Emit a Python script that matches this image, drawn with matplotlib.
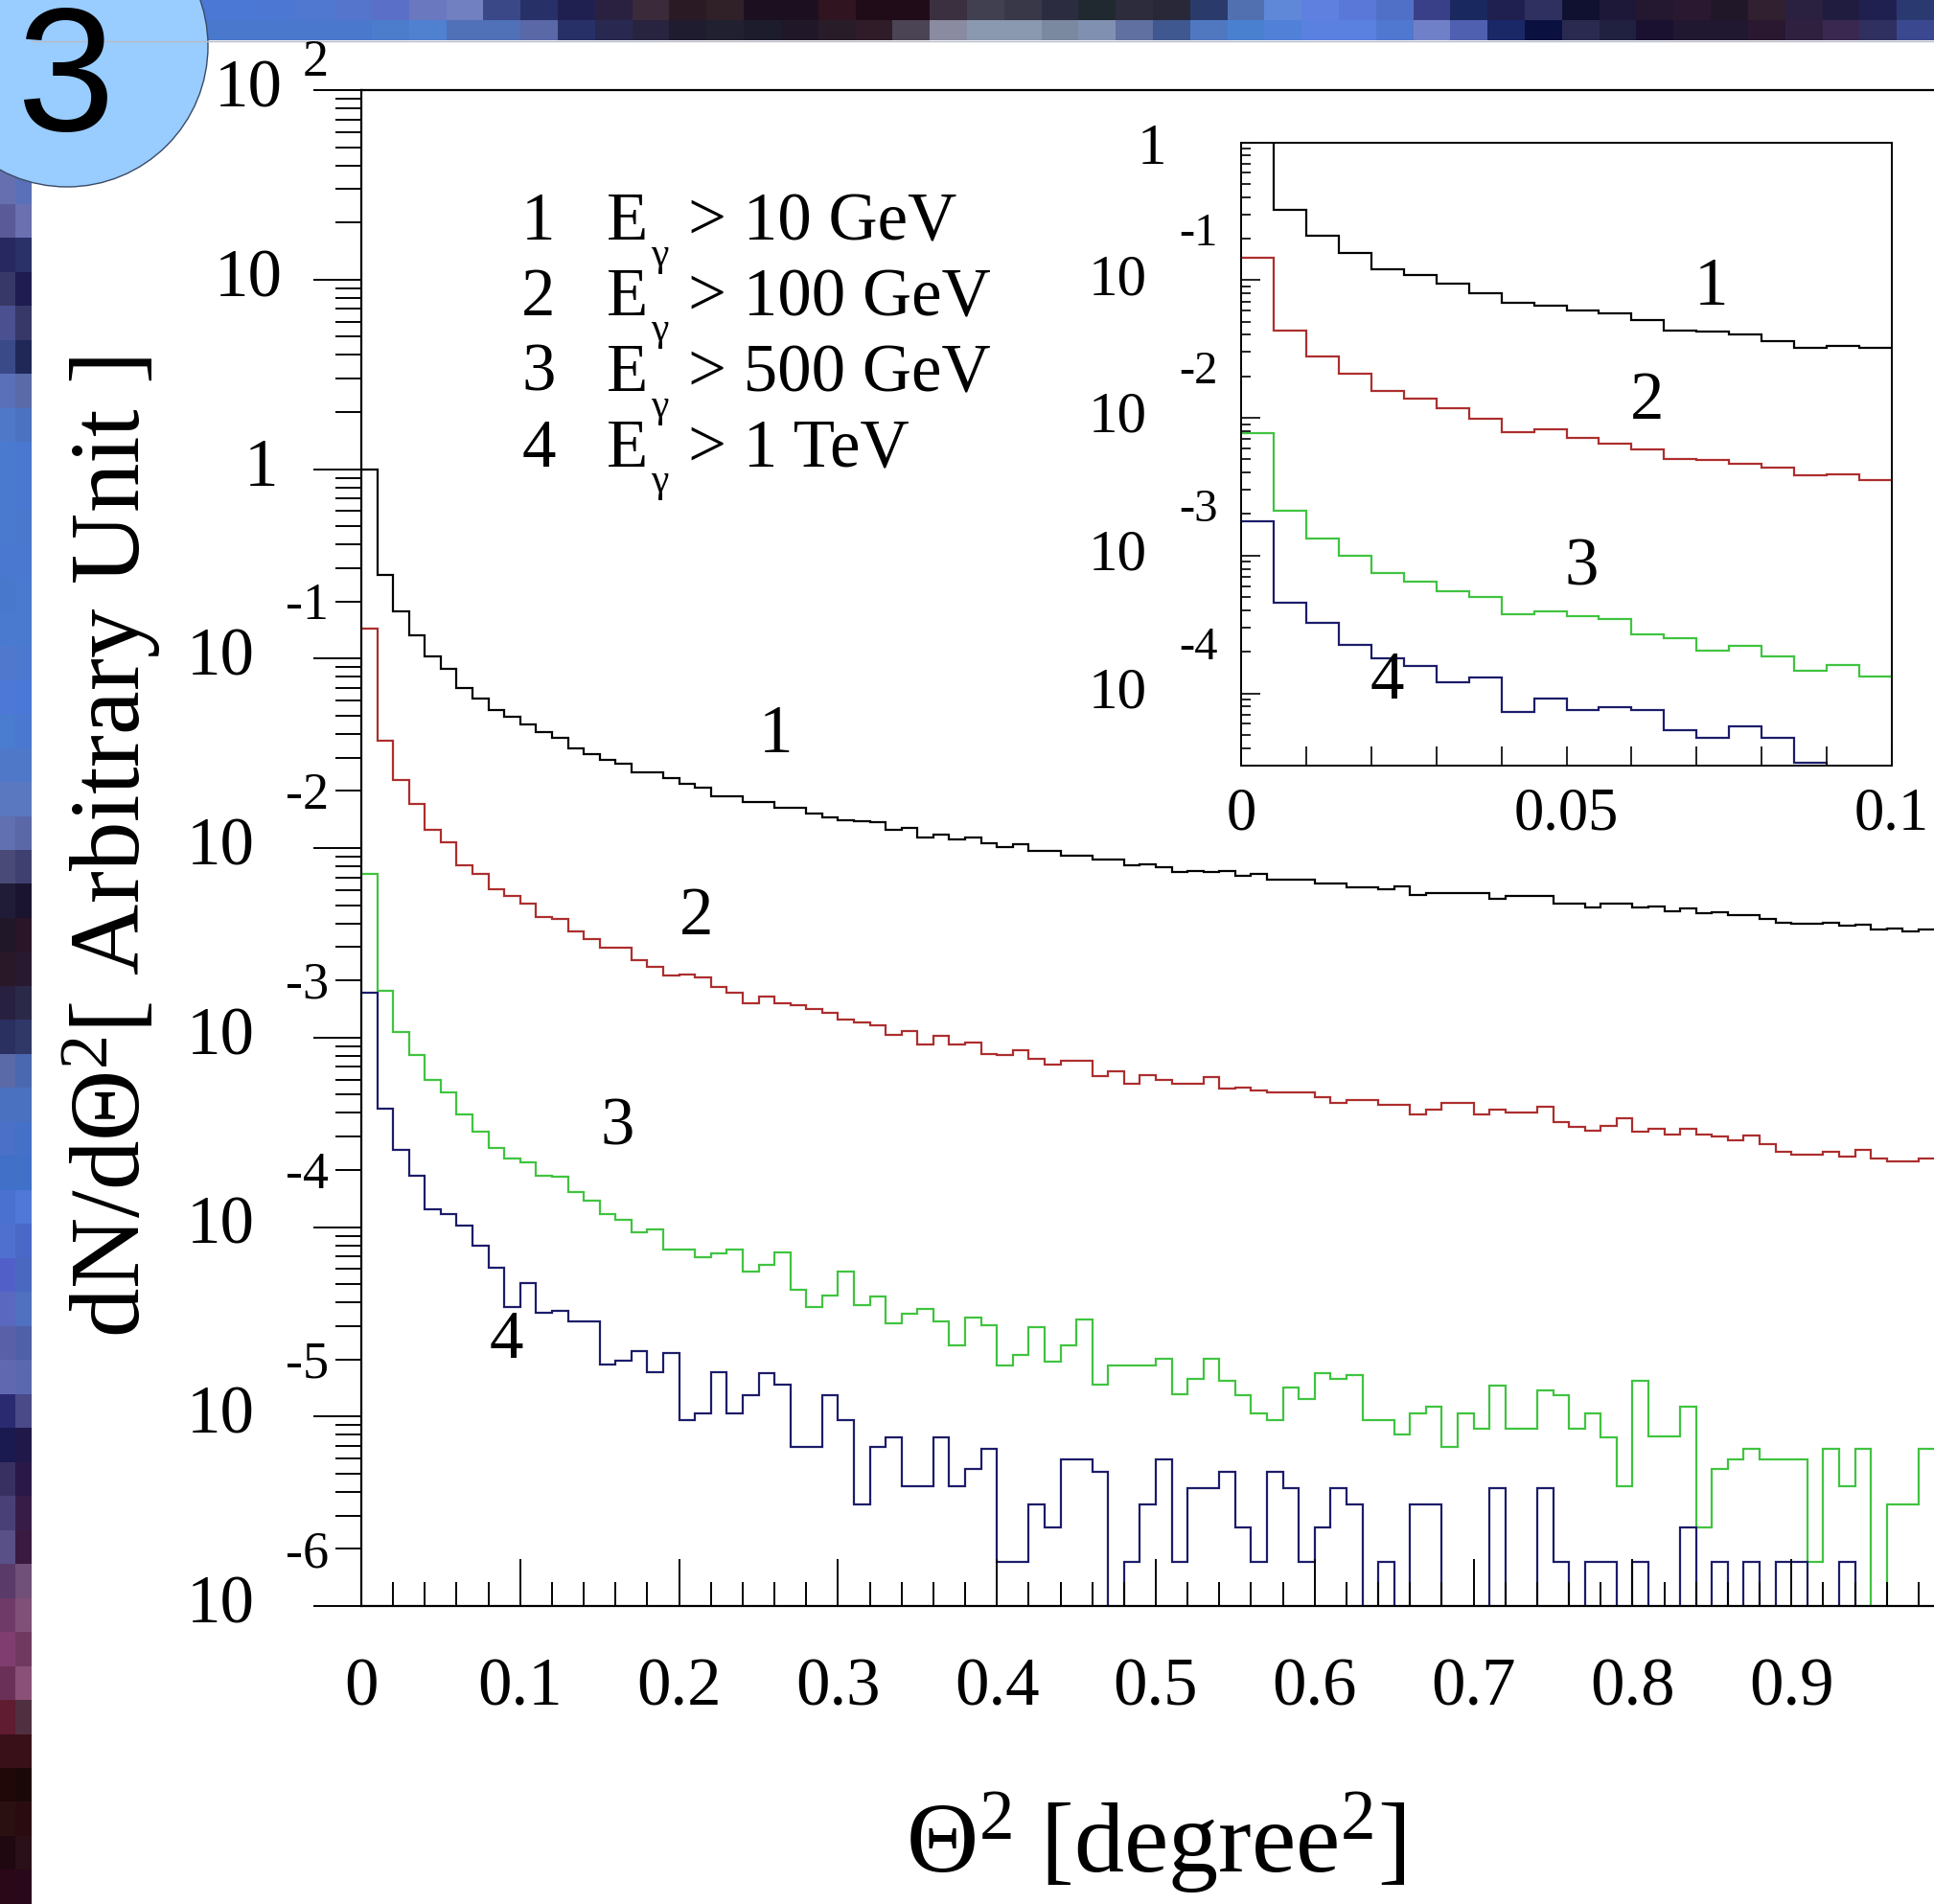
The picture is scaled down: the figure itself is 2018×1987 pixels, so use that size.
"""
Theta^2 distributions for four photon-energy cuts (ROOT style, log y),
redrawn on the slide background.  ->  out.png
"""
import numpy as np
import matplotlib
matplotlib.use("Agg")
import matplotlib.pyplot as plt
from matplotlib.patches import Circle
from matplotlib.colors import to_rgb
from matplotlib.ticker import LogLocator, MultipleLocator, NullFormatter

W, H, DPI = 2018, 1987, 100
PT = 72 / DPI  # points per pixel

# log10(dN/dTheta^2) per bin, None = empty bin
# main panel: 100 bins of 0.01 degree^2
black = [0.0, -0.558, -0.753, -0.878, -0.987, -1.054, -1.155, -1.210, -1.272, -1.307,
         -1.346, -1.389, -1.420, -1.475, -1.506, -1.537, -1.553, -1.600, -1.600, -1.631,
         -1.662, -1.682, -1.728, -1.728, -1.756, -1.756, -1.787, -1.787, -1.818, -1.838,
         -1.853, -1.857, -1.865, -1.904, -1.892, -1.943, -1.927, -1.955, -1.943, -1.974,
         -1.994, -1.982, -2.013, -2.013, -2.041, -2.041, -2.060, -2.060, -2.091, -2.087,
         -2.099, -2.126, -2.119, -2.126, -2.119, -2.146, -2.138, -2.165, -2.165, -2.165,
         -2.185, -2.185, -2.208, -2.208, -2.216, -2.204, -2.247, -2.236, -2.236, -2.236,
         -2.236, -2.267, -2.255, -2.255, -2.255, -2.294, -2.294, -2.314, -2.294, -2.294,
         -2.314, -2.306, -2.333, -2.321, -2.345, -2.341, -2.353, -2.353, -2.372, -2.392,
         -2.399, -2.399, -2.392, -2.411, -2.403, -2.431, -2.423, -2.438, -2.431, -2.431]
red = [-0.843, -1.436, -1.639, -1.768, -1.904, -1.970, -2.091, -2.138, -2.216, -2.255,
       -2.294, -2.364, -2.372, -2.438, -2.481, -2.528, -2.528, -2.591, -2.626, -2.673,
       -2.665, -2.684, -2.731, -2.762, -2.821, -2.782, -2.821, -2.829, -2.848, -2.871,
       -2.907, -2.918, -2.938, -2.985, -2.965, -3.035, -2.989, -3.035, -3.027, -3.086,
       -3.094, -3.066, -3.113, -3.141, -3.121, -3.121, -3.203, -3.180, -3.242, -3.199,
       -3.223, -3.242, -3.242, -3.211, -3.269, -3.262, -3.277, -3.289, -3.289, -3.289,
       -3.316, -3.347, -3.328, -3.328, -3.355, -3.355, -3.406, -3.379, -3.347, -3.347,
       -3.406, -3.379, -3.398, -3.398, -3.367, -3.445, -3.472, -3.492, -3.464, -3.425,
       -3.496, -3.484, -3.511, -3.484, -3.511, -3.523, -3.542, -3.515, -3.562, -3.601,
       -3.620, -3.620, -3.601, -3.628, -3.593, -3.640, -3.652, -3.652, -3.640, -3.640]
green = [-2.138, -2.754, -2.969, -3.094, -3.223, -3.289, -3.406, -3.496, -3.582, -3.640,
         -3.660, -3.730, -3.737, -3.815, -3.862, -3.933, -3.964, -4.030, -4.011, -4.120,
         -4.120, -4.159, -4.139, -4.120, -4.237, -4.198, -4.135, -4.330, -4.420, -4.362,
         -4.237, -4.412, -4.369, -4.510, -4.459, -4.432, -4.498, -4.623, -4.479, -4.518,
         -4.732, -4.674, -4.529, -4.713, -4.627, -4.490, -4.830, -4.732, -4.732, -4.732,
         -4.693, -4.880, -4.802, -4.693, -4.810, -4.888, -4.986, -5.017, -4.849, -4.908,
         -4.771, -4.802, -4.783, -5.017, -5.017, -5.095, -4.986, -4.947, -5.161, -4.986,
         -5.064, -4.838, -5.064, -5.064, -4.861, -4.888, -5.064, -4.986, -5.111, -5.368,
         -4.810, -5.103, -5.103, -4.947, -5.583, -5.278, -5.228, -5.173, -5.228, -5.228,
         -5.228, -5.766, -5.173, -5.368, -5.173, None, -5.466, -5.466, -5.173, -5.173]
blue = [-2.762, -3.375, -3.593, -3.730, -3.905, -3.933, -3.991, -4.100, -4.217, -4.420,
        -4.295, -4.451, -4.440, -4.498, -4.498, -4.725, -4.705, -4.654, -4.764, -4.666,
        -5.017, -4.986, -4.764, -4.986, -4.888, -4.771, -4.830, -5.161, -5.161, -4.888,
        -5.017, -5.462, -5.161, -5.111, -5.368, -5.368, -5.111, -5.368, -5.278, -5.169,
        -5.766, -5.766, -5.466, -5.583, -5.228, -5.228, -5.290, None, -5.766, -5.466,
        -5.228, -5.766, -5.376, -5.376, -5.290, -5.583, -5.766, -5.290, -5.376, -5.766,
        -5.583, -5.376, -5.466, None, -5.766, None, -5.466, -5.466, None, None,
        None, -5.376, None, None, -5.376, -5.766, None, -5.766, -5.766, None,
        -5.766, None, None, -5.583, None, -5.766, None, -5.766, None, -5.766,
        -5.766, None, None, -5.766, None, None, None, None, None, None]

# inset: 20 bins of 0.005 degree^2
black_in = [0.23, -0.493, -0.677, -0.801, -0.919, -0.961, -1.025, -1.096, -1.164, -1.185,
            -1.220, -1.245, -1.291, -1.369, -1.376, -1.398, -1.440, -1.493, -1.476, -1.493]
red_in = [-0.837, -1.369, -1.557, -1.678, -1.806, -1.859, -1.930, -2.008, -2.107, -2.086,
          -2.143, -2.185, -2.228, -2.302, -2.309, -2.334, -2.362, -2.416, -2.410, -2.453]
green_in = [-2.114, -2.675, -2.877, -3.001, -3.126, -3.186, -3.257, -3.303, -3.427, -3.402,
            -3.438, -3.462, -3.569, -3.600, -3.693, -3.658, -3.729, -3.835, -3.792, -3.881]
blue_in = [-2.753, -3.345, -3.487, -3.650, -3.746, -3.800, -3.917, -3.888, -4.137, -4.037,
           -4.119, -4.101, -4.119, -4.268, -4.321, -4.243, -4.321, -4.506, None, None]

curve_ids = ["1", "2", "3", "4"]
cuts = ["> 10 GeV", "> 100 GeV", "> 500 GeV", "> 1 TeV"]
colors = ["#000000", "#ad2e2e", "#40c440", "#1c1c6a"]

xtick_vals = [0, 0.1, 0.2, 0.3, 0.4, 0.5, 0.6, 0.7, 0.8, 0.9]
xtick_text = ["0", "0.1", "0.2", "0.3", "0.4", "0.5", "0.6", "0.7", "0.8", "0.9"]
in_xtick_vals = [0, 0.05, 0.1]
in_xtick_text = ["0", "0.05", "0.1"]

# slide decoration (pixel mosaic of the template border)
top_row1 = ["#4a78d4"] * 7 + ["#4c78d4", "#5078d0", "#5575cc", "#5a70c8", "#6a78c0", "#7080c0",
            "#3a4888", "#283068", "#202050", "#2a2040", "#3a2a3a", "#2a1a24", "#302028",
            "#1c1020", "#1c1020", "#301420", "#200c18", "#200c18", "#3a3040", "#404050",
            "#383848", "#2c2c40", "#202830", "#2c2c3c", "#282838", "#2a3a6a", "#5070b0",
            "#6088d8", "#6080e0", "#5a78d8", "#5070c8", "#3a4088", "#1a2860", "#202050",
            "#303060", "#101030", "#1e1838", "#241830", "#2a1830", "#201828", "#302030",
            "#2a2040", "#201c40", "#202050", "#2a3a70"]
top_row2 = ["#4a78cc"] * 10 + ["#4c7ccc", "#5080d0", "#5070b8", "#5070b8", "#5a68a8",
            "#283068", "#282850", "#282440", "#201c30", "#202030", "#1c1c2c", "#201828",
            "#281c28", "#301c28", "#4a4454", "#8a8aa0", "#8a98b0", "#8a98b0", "#7a88a0",
            "#8090b0", "#6070a0", "#405890", "#5078c0", "#4a80d0", "#5080d8", "#5a80e0",
            "#5a80e0", "#5078d0", "#7080c8", "#5060b0", "#1a2868", "#0a1040", "#2a2a50",
            "#202040", "#1a1030", "#201830", "#201830", "#2a1830", "#302040", "#3a2850",
            "#303060", "#3a4890"]
left_col1 = ["#5a70b8"] * 5 + ["#6670b0", "#5a5a98", "#282860", "#383868", "#4a5090",
             "#3a4a88", "#5a70b8", "#5078c8", "#4a7ad0", "#4a7ad0", "#4a7ad0", "#4a78d0",
             "#4878cc", "#4a7ad0", "#5078cc", "#4e78d8", "#4a7cd0", "#5078c8", "#5a78c0",
             "#6070b0", "#4a4a78", "#201c38", "#201828", "#281828", "#282040", "#2a3060",
             "#5a6aa8", "#4a70c0", "#4a70c8", "#4070c8", "#4a70d0", "#5070d0", "#5060c8",
             "#5a68c0", "#5a60a8", "#6068b0", "#2a2a70", "#1a1a50", "#383060", "#4a4078",
             "#5a5088", "#5a3a68", "#703a68", "#803e70", "#6a3058", "#601c30", "#3a1018",
             "#200808", "#2a1010", "#200810", "#2a0818"]
left_col2 = ["#5a70b8"] * 6 + ["#6a70b0", "#2a3068", "#1e1c50", "#383868", "#202858",
             "#5a6aa8", "#4a72c0", "#4a78d0", "#4a78d0", "#4a78cc", "#4a78d0", "#4a7ad0",
             "#4a7ad0", "#4c78d0", "#4a78d8", "#4a78d0", "#5078c8", "#5a78c0", "#5a68a8",
             "#404070", "#1a1430", "#2a1428", "#281830", "#2a2a48", "#303868", "#4a68b0",
             "#4a70c0", "#4470c8", "#4070c8", "#5078d8", "#4a68c8", "#4a68c0", "#5070c0",
             "#5060a8", "#5a68b0", "#4a4a88", "#201848", "#2a1848", "#381c48", "#3a1a40",
             "#705078", "#805078", "#703a60", "#8a5078", "#503040", "#3a1018", "#1a0808",
             "#2a0c10", "#2a1018", "#28081a"]


def to_vals(exps):
    return np.array([0.0 if e is None else 10.0 ** e for e in exps])


def put(ax, s, xy, coords, dx, dy, size, ha="center"):
    # dx, dy in pixels
    ax.annotate(s, xy=xy, xycoords=coords, xytext=(dx * PT, dy * PT),
                textcoords="offset points", ha=ha, va="center", fontsize=size,
                annotation_clip=False)


def fx(px):
    return px / W


def fy(py):
    return 1 - py / H


plt.rcParams["font.family"] = ["Liberation Serif", "DejaVu Serif"]
plt.rcParams["mathtext.fontset"] = "custom"
plt.rcParams["mathtext.rm"] = "Liberation Serif"
plt.rcParams["mathtext.it"] = "Liberation Serif:italic"
plt.rcParams["mathtext.bf"] = "Liberation Serif:bold"

fig = plt.figure(figsize=(W / DPI, H / DPI), dpi=DPI, facecolor="white")

# ---- slide background -------------------------------------------------
bg = fig.add_axes([0, 0, 1, 1], zorder=-5)
bg.axis("off")
left_img = np.array([[to_rgb(a), to_rgb(b)] for a, b in zip(left_col1, left_col2)])
bg.imshow(left_img, extent=(0, 33, H, 0), aspect="auto", interpolation="nearest")
top_img = np.array([[to_rgb(c) for c in top_row1], [to_rgb(c) for c in top_row2]])
bg.imshow(top_img, extent=(0, W, 42, 0), aspect="auto", interpolation="nearest")
bg.plot([33, W], [42.5, 42.5], color="#b8bcc8", lw=1)
bg.add_patch(Circle((70, 48), 147, facecolor="#99ccff", edgecolor="#3a4a66", lw=1))
bg.text(68, 136, "3", ha="center", va="baseline", fontsize=132,
        family=["Liberation Sans", "DejaVu Sans"])
bg.set_xlim(0, W)
bg.set_ylim(H, 0)

# ---- main panel ---------------------------------------------------------
ax = fig.add_axes([fx(377), fy(1676), 1658 / W, (1676 - 94) / H])
ax.set_yscale("log")
ax.set_xlim(0, 1)
ax.set_ylim(1e-6, 1e2)
edges = np.linspace(0, 1, 101)
for exps, col in zip([black, red, green, blue], colors):
    v = to_vals(exps)
    ax.stairs(np.where(v > 0, v, 1e-12), edges, baseline=None, color=col, lw=1.6)

for s in ["left", "bottom", "top"]:
    ax.spines[s].set_linewidth(1.6)
ax.spines["right"].set_visible(False)
ax.xaxis.set_major_locator(MultipleLocator(0.1))
ax.xaxis.set_minor_locator(MultipleLocator(0.02))
ax.yaxis.set_major_locator(LogLocator(base=10, numticks=20))
ax.yaxis.set_minor_locator(LogLocator(base=10, subs=np.arange(2, 10), numticks=100))
ax.yaxis.set_minor_formatter(NullFormatter())
ax.tick_params(axis="x", which="major", direction="in", length=49 * PT, width=1.4,
               labelbottom=False, top=False)
ax.tick_params(axis="x", which="minor", direction="in", length=25 * PT, width=1.4, top=False)
ax.tick_params(axis="y", which="major", direction="out", length=50 * PT, width=1.4,
               labelleft=False, right=False)
ax.tick_params(axis="y", which="minor", direction="out", length=27 * PT, width=1.4, right=False)

ycoords = ("axes fraction", "data")
for k in range(-6, 3):
    val = 10.0 ** k
    if k == 0:
        put(ax, "1", (0, val), ycoords, -87, 0, 51, "right")
    elif k == 1:
        put(ax, "10", (0, val), ycoords, -82, 0, 51, "right")
    elif k == 2:
        put(ax, "10", (0, val), ycoords, -82, 0, 51, "right")
        put(ax, "2", (0, val), ycoords, -61, 28, 39, "left")
    else:
        put(ax, "10", (0, val), ycoords, -111, 0, 51, "right")
        put(ax, f"-{-k}", (0, val), ycoords, -79, 54, 39, "left")
for v, t in zip(xtick_vals, xtick_text):
    put(ax, t, (v, 0), ("data", "axes fraction"), 0, -86, 51)

ax.text(0.261, 10 ** -1.404, curve_ids[0], ha="center", va="center", fontsize=51)
ax.text(0.211, 10 ** -2.365, curve_ids[1], ha="center", va="center", fontsize=51)
ax.text(0.161, 10 ** -3.477, curve_ids[2], ha="center", va="center", fontsize=51)
ax.text(0.091, 10 ** -4.600, curve_ids[3], ha="center", va="center", fontsize=51)

# legend block
for i, (cid, cut) in enumerate(zip(curve_ids, cuts)):
    base = 250 + 79 * i
    fig.text(fx(562), fy(base), cid, ha="center", va="baseline", fontsize=51)
    fig.text(fx(633), fy(base), "E", ha="left", va="baseline", fontsize=51)
    fig.text(fx(679), fy(base - 3), "\u03b3", ha="left", va="top", fontsize=30)
    fig.text(fx(718), fy(base), cut, ha="left", va="baseline", fontsize=51)

# axis titles
fig.text(fx(1206), fy(1954), r"$\mathrm{\Theta}^{2}$ [degree$^{2}$]",
         ha="center", va="baseline", fontsize=75)
fig.text(fx(116), fy(884), r"dN/d$\mathrm{\Theta}^{2}$[ Arbitrary Unit ]",
         ha="center", va="center", rotation=90, fontsize=74)

# ---- inset: first 0.1 degree^2 ------------------------------------------
axi = fig.add_axes([fx(1295), fy(799), 679 / W, (799 - 148.5) / H])
axi.set_yscale("log")
axi.set_xlim(0, 0.1)
axi.set_ylim(10 ** -4.525, 1)
edges_in = np.linspace(0, 0.1, 21)
for exps, col in zip([black_in, red_in, green_in, blue_in], colors):
    v = to_vals(exps)
    axi.stairs(np.where(v > 0, v, 1e-12), edges_in, baseline=None, color=col, lw=1.6)
for s in axi.spines.values():
    s.set_linewidth(1.4)
axi.xaxis.set_major_locator(MultipleLocator(0.01))
axi.yaxis.set_major_locator(LogLocator(base=10, numticks=20))
axi.yaxis.set_minor_locator(LogLocator(base=10, subs=np.arange(2, 10), numticks=100))
axi.yaxis.set_minor_formatter(NullFormatter())
axi.tick_params(axis="x", which="major", direction="in", length=20 * PT, width=1.2,
                labelbottom=False)
axi.tick_params(axis="y", which="major", direction="in", length=20 * PT, width=1.2,
                labelleft=False)
axi.tick_params(axis="y", which="minor", direction="in", length=10 * PT, width=1.2)

for k in range(-4, 1):
    val = 10.0 ** k
    if k == 0:
        put(axi, "1", (0, val), ycoords, -78, -8, 44, "right")
    else:
        put(axi, "10", (0, val), ycoords, -98, 0, 44, "right")
        put(axi, f"-{-k}", (0, val), ycoords, -65, 48, 35, "left")
for v, t in zip(in_xtick_vals, in_xtick_text):
    put(axi, t, (v, 0), ("data", "axes fraction"), 0, -51, 45)

axi.text(0.0722, 10 ** -1.057, curve_ids[0], ha="center", va="center", fontsize=51)
axi.text(0.0624, 10 ** -1.885, curve_ids[1], ha="center", va="center", fontsize=51)
axi.text(0.0523, 10 ** -3.095, curve_ids[2], ha="center", va="center", fontsize=51)
axi.text(0.0225, 10 ** -3.915, curve_ids[3], ha="center", va="center", fontsize=51)

fig.savefig("out.png", dpi=DPI, facecolor="white")
